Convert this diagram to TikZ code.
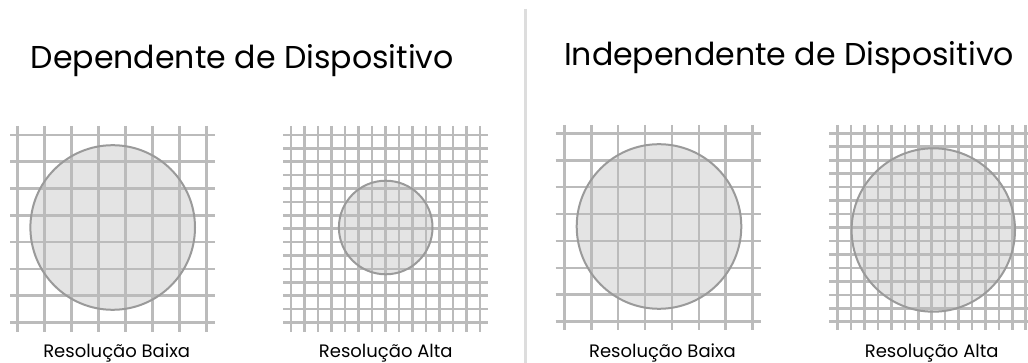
\documentclass[tikz,border=0pt]{standalone}
\usepackage{fontspec}
\setmainfont{Poppins}
\definecolor{gridgray}{HTML}{BBBBBB}
\definecolor{discfill}{HTML}{E4E4E4}
\definecolor{discline}{HTML}{9A9A9A}
\definecolor{divgray}{HTML}{DDDDDD}
\begin{document}
\begin{tikzpicture}[x=1pt,y=-1pt,
  gridline/.style={draw=gridgray,line width=2.6pt},
  disc/.style={fill=discfill},
  discedge/.style={draw=discline,line width=2pt},
  divider/.style={draw=divgray,line width=3pt},
  title/.style={anchor=base,inner sep=0pt,font=\fontsize{31.6}{35}\selectfont},
  caption/.style={anchor=base,inner sep=0pt,font=\fontsize{18}{21}\selectfont}]
\useasboundingbox (0,0) rectangle (1028,363);
% divider
\draw[divider] (525,9) -- (525,363);
% titles
\node[title] (t1) at (242.3,68.3) {Dependente de Dispositivo};
\node[title] (t2) at (789,66) {Independente de Dispositivo};
% discs (fill)
\fill[disc] (112.7,227.5) circle[radius=82.3];
\fill[disc] (385.7,227.5) circle[radius=46.8];
\fill[disc] (659,226.5) circle[radius=82.3];
\fill[disc] (933.3,230) circle[radius=81.7];
% grid 1
\foreach \k in {0,...,7} {
  \draw[gridline] ({17.3+27.05*\k},126) -- ({17.3+27.05*\k},332);
  \draw[gridline] (10,{135+26.8*\k}) -- (215,{135+26.8*\k});
}
% grid 2
\foreach \k in {0,...,14} {
  \draw[gridline] ({291+13.5*\k},126) -- ({291+13.5*\k},332);
  \draw[gridline] (283.3,{135+13.4*\k}) -- (487.7,{135+13.4*\k});
}
% grid 3
\foreach \k in {0,...,7} {
  \draw[gridline] ({564.3+26.91*\k},125) -- ({564.3+26.91*\k},330);
  \draw[gridline] (555.7,{133.3+26.91*\k}) -- (761,{133.3+26.91*\k});
}
% grid 4
\foreach \k in {0,...,14} {
  \draw[gridline] ({837.7+13.43*\k},125) -- ({837.7+13.43*\k},330);
  \draw[gridline] (829.3,{133.3+13.46*\k}) -- (1030,{133.3+13.46*\k});
}
% disc outlines
\draw[discedge] (112.7,227.5) circle[radius=82.3];
\draw[discedge] (385.7,227.5) circle[radius=46.8];
\draw[discedge] (659,226.5) circle[radius=82.3];
\draw[discedge] (933.3,230) circle[radius=81.7];
% captions
\node[caption] (c1) at (116.7,357.7) {Resolução Baixa};
\node[caption] (c2) at (385.8,357.7) {Resolução Alta};
\node[caption] (c3) at (662.5,357.7) {Resolução Baixa};
\node[caption] (c4) at (931.7,357.7) {Resolução Alta};
\end{tikzpicture}
\end{document}
